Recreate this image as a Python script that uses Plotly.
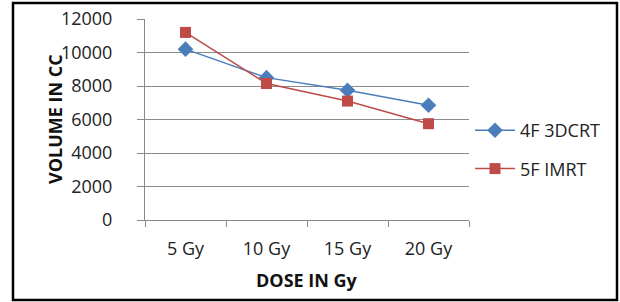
import plotly.graph_objects as go

categories = ["5 Gy", "10 Gy", "15 Gy", "20 Gy"]
series_4f = [10200, 8500, 7750, 6850]
series_5f = [11200, 8150, 7100, 5750]
y_ticks = [0, 2000, 4000, 6000, 8000, 10000, 12000]
y_tick_labels = [str(v) for v in y_ticks]

W, H = 620, 302
L, R, T, B = 145, 469, 19, 220
pw, ph = R - L, B - T

def px(x):
    return (x - L) / pw

def py(y):
    return (B - y) / ph

FONT = "Open Sans"

fig = go.Figure()
fig.add_trace(go.Scatter(
    x=categories, y=series_4f, name="4F 3DCRT", mode="lines+markers",
    legendgroup="a",
    line=dict(color="#4a7ebb", width=1.5),
    marker=dict(symbol="diamond", size=12, color="#4a7ebb"),
))
fig.add_trace(go.Scatter(
    x=categories, y=series_5f, name="5F IMRT", mode="lines+markers",
    legendgroup="b",
    line=dict(color="#be4b48", width=1.5),
    marker=dict(symbol="square", size=11, color="#be4b48"),
))

fig.update_layout(
    width=W, height=H,
    margin=dict(l=L, r=W - R, t=T, b=H - B, autoexpand=False),
    paper_bgcolor="white", plot_bgcolor="white",
    font=dict(family=FONT, size=18, color="#222"),
    showlegend=True,
    legend=dict(x=px(470), y=py(112), xanchor="left", yanchor="top",
                xref="paper", yref="paper",
                font=dict(size=18, color="#222"), tracegroupgap=12,
                bgcolor="rgba(0,0,0,0)", itemwidth=40),
    xaxis=dict(type="category", range=[-0.5, 3.5], showgrid=False,
               showline=True, linecolor="#888", linewidth=1,
               ticks="outside", tickson="boundaries", ticklen=6,
               tickcolor="#888", tickfont=dict(size=18, color="#222"),
               ticklabelstandoff=12),
    yaxis=dict(range=[0, 12000], tickvals=y_ticks, ticktext=y_tick_labels,
               showgrid=True, gridcolor="#8c8c8c", gridwidth=1,
               showline=True, linecolor="#888", linewidth=1,
               ticks="outside", ticklen=7, tickcolor="#888",
               tickfont=dict(size=18, color="#222"), zeroline=False,
               ticklabelstandoff=21),
    shapes=[dict(type="rect", xref="paper", yref="paper",
                 x0=px(13), x1=px(617), y0=py(300), y1=py(3),
                 line=dict(color="black", width=2.5))],
    annotations=[
        dict(text="<b>VOLUME IN CC</b>", xref="paper", yref="paper",
             x=px(55), y=py(119), xanchor="center", yanchor="middle",
             textangle=-90, showarrow=False,
             font=dict(size=18, color="#111")),
        dict(text="<b>DOSE IN Gy</b>", xref="paper", yref="paper",
             x=px(307), y=py(280), xanchor="center", yanchor="middle",
             showarrow=False,
             font=dict(size=18, color="#111")),
    ],
)

fig.write_html("out.html", config={"displayModeBar": False},
               post_script="document.body.style.margin='0px';")
